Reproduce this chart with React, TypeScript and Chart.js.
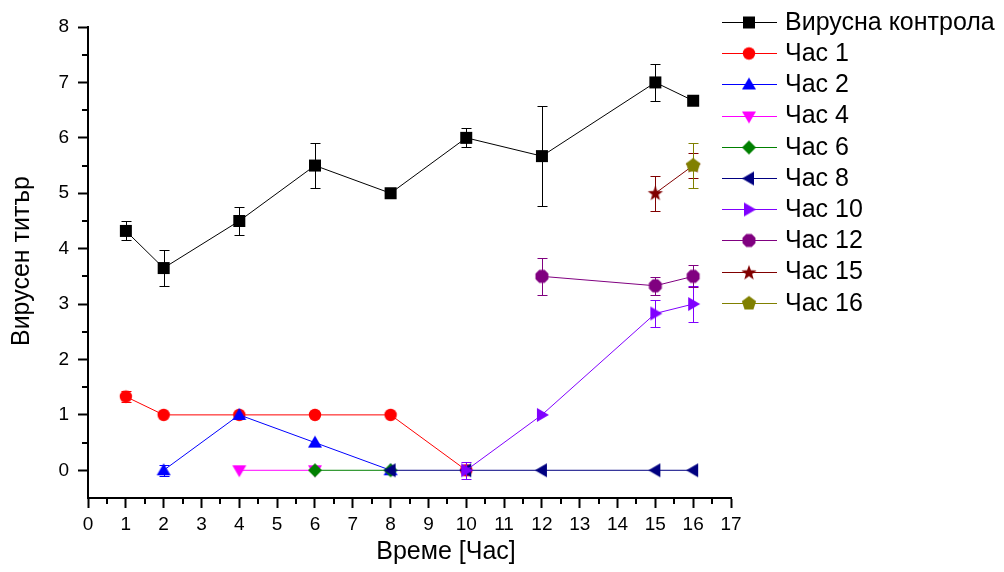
import React, { useEffect, useRef } from 'react';
import { Chart, registerables } from 'chart.js';

Chart.register(...registerables);

const FONT = '"Liberation Sans", Arial, sans-serif';

const seriesNames = ['Вирусна контрола', 'Час 1', 'Час 2', 'Час 4', 'Час 6', 'Час 8', 'Час 10', 'Час 12', 'Час 15', 'Час 16'];
const seriesColors = ['#000000', '#FF0000', '#0000FF', '#FF00FF', '#008000', '#000080', '#8000FF', '#800080', '#800000', '#808000'];
const seriesMarkers = ['square', 'circle', 'triUp', 'triDown', 'diamond', 'triLeft', 'triRight', 'octagon', 'star', 'pentagon'];

const controlX = [1, 2, 4, 6, 8, 10, 12, 15, 16];
const controlY = [4.32, 3.65, 4.5, 5.5, 5.0, 6.0, 5.67, 7.0, 6.67];
const controlErr = [0.17, 0.33, 0.25, 0.4, 0, 0.17, 0.9, 0.33, 0.03];

const hour1X = [1, 2, 4, 6, 8, 10];
const hour1Y = [1.33, 1, 1, 1, 1, 0];
const hour1Err = [0.1, 0, 0, 0, 0, 0];

const hour2X = [2, 4, 6, 8];
const hour2Y = [0, 1, 0.5, 0];
const hour2Err = [0.1, 0, 0, 0];

const hour4X = [4, 6];
const hour4Y = [0, 0];
const hour4Err = [0, 0];

const hour6X = [6, 8];
const hour6Y = [0, 0];
const hour6Err = [0, 0];

const hour8X = [8, 10, 12, 15, 16];
const hour8Y = [0, 0, 0, 0, 0];
const hour8Err = [0, 0, 0, 0, 0];

const hour10X = [10, 12, 15, 16];
const hour10Y = [0, 1, 2.83, 3.0];
const hour10Err = [0.15, 0, 0.25, 0.33];

const hour12X = [12, 15, 16];
const hour12Y = [3.5, 3.33, 3.5];
const hour12Err = [0.33, 0.16, 0.2];

const hour15X = [15, 16];
const hour15Y = [5.0, 5.5];
const hour15Err = [0.32, 0.22];

const hour16X = [16];
const hour16Y = [5.5];
const hour16Err = [0.4];

const xMin = 0;
const xMax = 17;
const yMin = -0.5;
const yMax = 8;
const xTitle = 'Време [Час]';
const yTitle = 'Вирусен титър';

const seriesX = [controlX, hour1X, hour2X, hour4X, hour6X, hour8X, hour10X, hour12X, hour15X, hour16X];
const seriesY = [controlY, hour1Y, hour2Y, hour4Y, hour6Y, hour8Y, hour10Y, hour12Y, hour15Y, hour16Y];
const seriesErr = [controlErr, hour1Err, hour2Err, hour4Err, hour6Err, hour8Err, hour10Err, hour12Err, hour15Err, hour16Err];

function makeMarker(shape: string, color: string): HTMLCanvasElement {
  const s = 18;
  const c = document.createElement('canvas');
  c.width = s;
  c.height = s;
  const ctx = c.getContext('2d')!;
  ctx.fillStyle = color;
  const m = s / 2;
  ctx.beginPath();
  const poly = (n: number, r: number, start: number) => {
    for (let k = 0; k < n; k++) {
      const a = start + (k * 2 * Math.PI) / n;
      const px = m + r * Math.cos(a);
      const py = m + r * Math.sin(a);
      if (k === 0) ctx.moveTo(px, py);
      else ctx.lineTo(px, py);
    }
  };
  switch (shape) {
    case 'square':
      ctx.rect(m - 6, m - 6, 12, 12);
      break;
    case 'circle':
      ctx.arc(m, m, 6.2, 0, Math.PI * 2);
      break;
    case 'triUp':
      ctx.moveTo(m, m - 7);
      ctx.lineTo(m + 7, m + 5);
      ctx.lineTo(m - 7, m + 5);
      break;
    case 'triDown':
      ctx.moveTo(m, m + 7);
      ctx.lineTo(m + 7, m - 5);
      ctx.lineTo(m - 7, m - 5);
      break;
    case 'triLeft':
      ctx.moveTo(m - 7, m);
      ctx.lineTo(m + 5, m - 7);
      ctx.lineTo(m + 5, m + 7);
      break;
    case 'triRight':
      ctx.moveTo(m + 7, m);
      ctx.lineTo(m - 5, m - 7);
      ctx.lineTo(m - 5, m + 7);
      break;
    case 'diamond':
      ctx.moveTo(m, m - 7);
      ctx.lineTo(m + 7, m);
      ctx.lineTo(m, m + 7);
      ctx.lineTo(m - 7, m);
      break;
    case 'octagon':
      poly(8, 7, Math.PI / 8);
      break;
    case 'pentagon':
      poly(5, 7.5, -Math.PI / 2);
      break;
    case 'star': {
      for (let k = 0; k < 10; k++) {
        const a = -Math.PI / 2 + (k * Math.PI) / 5;
        const r = k % 2 === 0 ? 8 : 3.3;
        const px = m + r * Math.cos(a);
        const py = m + 0.5 + r * Math.sin(a);
        if (k === 0) ctx.moveTo(px, py);
        else ctx.lineTo(px, py);
      }
      break;
    }
  }
  ctx.closePath();
  ctx.fill();
  return c;
}

export default function App() {
  const canvasRef = useRef<HTMLCanvasElement | null>(null);

  useEffect(() => {
    const canvas = canvasRef.current;
    if (!canvas) return;
    const markers = seriesMarkers.map((s, i) => makeMarker(s, seriesColors[i]));

    const datasets = seriesNames.map((name, i) => ({
      label: name,
      data: seriesX[i].map((x, k) => ({ x, y: seriesY[i][k] })),
      borderColor: seriesColors[i],
      backgroundColor: seriesColors[i],
      borderWidth: 1,
      pointStyle: markers[i] as any,
      pointRadius: 6,
      showLine: true,
      order: 20 - i,
      clip: false as any,
    }));

    const errorBars = {
      id: 'errorBars',
      beforeDatasetDraw(chart: any, args: any) {
        const i = args.index;
        const xs = chart.scales.x;
        const ys = chart.scales.y;
        const ctx = chart.ctx;
        ctx.save();
        ctx.strokeStyle = seriesColors[i];
        ctx.lineWidth = 1;
        seriesX[i].forEach((xv, k) => {
          const e = seriesErr[i][k];
          if (!e) return;
          const px = Math.round(xs.getPixelForValue(xv)) + 0.5;
          const top = Math.round(ys.getPixelForValue(seriesY[i][k] + e)) + 0.5;
          const bot = Math.round(ys.getPixelForValue(seriesY[i][k] - e)) + 0.5;
          ctx.beginPath();
          ctx.moveTo(px, top);
          ctx.lineTo(px, bot);
          ctx.moveTo(px - 5, top);
          ctx.lineTo(px + 5, top);
          ctx.moveTo(px - 5, bot);
          ctx.lineTo(px + 5, bot);
          ctx.stroke();
        });
        ctx.restore();
      },
    };

    const decorations = {
      id: 'decorations',
      afterDraw(chart: any) {
        const ctx = chart.ctx;
        const xs = chart.scales.x;
        const ys = chart.scales.y;
        const area = chart.chartArea;
        ctx.save();
        // minor ticks
        ctx.strokeStyle = '#000';
        ctx.lineWidth = 2;
        ctx.beginPath();
        for (let v = xMin + 0.5; v < xMax; v += 1) {
          const px = Math.round(xs.getPixelForValue(v));
          ctx.moveTo(px, area.bottom);
          ctx.lineTo(px, area.bottom + 6);
        }
        for (let v = 0.5; v < yMax; v += 1) {
          const py = Math.round(ys.getPixelForValue(v));
          ctx.moveTo(area.left, py);
          ctx.lineTo(area.left - 6, py);
        }
        ctx.stroke();

        // axis titles
        ctx.fillStyle = '#000';
        ctx.font = `25px ${FONT}`;
        ctx.textAlign = 'center';
        ctx.textBaseline = 'middle';
        ctx.fillText(xTitle, 446, 552);
        ctx.save();
        ctx.translate(22, 261);
        ctx.rotate(-Math.PI / 2);
        ctx.fillText(yTitle, 0, 0);
        ctx.restore();

        // legend
        ctx.textAlign = 'left';
        seriesNames.forEach((name, i) => {
          const y = 22 + i * 31.2;
          ctx.strokeStyle = seriesColors[i];
          ctx.lineWidth = 1;
          ctx.beginPath();
          ctx.moveTo(722, Math.round(y) + 0.5);
          ctx.lineTo(777, Math.round(y) + 0.5);
          ctx.stroke();
          const mk = markers[i];
          ctx.drawImage(mk, 749 - mk.width / 2, Math.round(y) - mk.height / 2 + 0.5);
          ctx.fillStyle = '#000';
          ctx.fillText(name, 785, y + 1);
        });
        ctx.restore();
      },
    };

    const chart = new Chart(canvas, {
      type: 'line',
      data: { datasets: datasets as any },
      options: {
        animation: false,
        responsive: false,
        events: [],
        layout: { padding: { left: 0, top: 27, right: 273, bottom: 0 } },
        plugins: { legend: { display: false }, tooltip: { enabled: false } },
        scales: {
          x: {
            type: 'linear',
            min: xMin,
            max: xMax,
            afterFit: (s: any) => {
              s.height = 74;
            },
            ticks: {
              stepSize: 1,
              color: '#000',
              font: { family: FONT, size: 19 },
              padding: 5,
              maxRotation: 0,
              autoSkip: false,
            },
            grid: { drawOnChartArea: false, drawTicks: true, tickLength: 10, tickWidth: 2, tickColor: '#000' },
            border: { display: true, color: '#000', width: 2 },
          },
          y: {
            type: 'linear',
            min: yMin,
            max: yMax,
            afterFit: (s: any) => {
              s.width = 88;
            },
            ticks: {
              stepSize: 1,
              includeBounds: false,
              color: '#000',
              font: { family: FONT, size: 19 },
              padding: 9,
            },
            grid: { drawOnChartArea: false, drawTicks: true, tickLength: 10, tickWidth: 2, tickColor: '#000' },
            border: { display: true, color: '#000', width: 2 },
          },
        },
      } as any,
      plugins: [errorBars, decorations],
    });

    return () => chart.destroy();
  }, []);

  return (
    <div style={{ position: 'absolute', left: 0, top: 0, width: 1004, height: 572, background: '#fff' }}>
      <canvas ref={canvasRef} width={1004} height={572} />
    </div>
  );
}
